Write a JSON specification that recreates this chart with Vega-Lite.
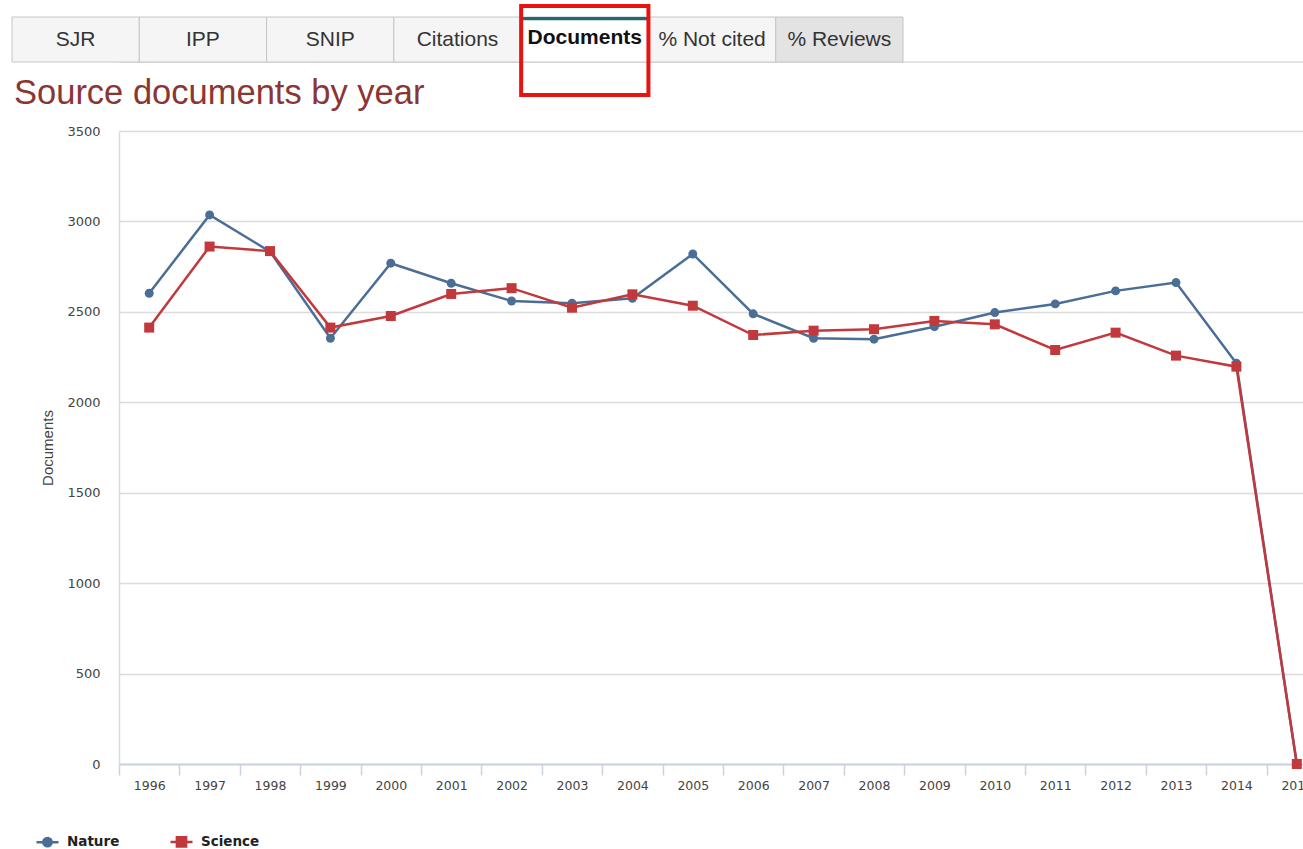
{
  "$schema": "https://vega.github.io/schema/vega-lite/v6.json",
  "autosize": {"type": "none"},
  "padding": {"left": 119, "top": 131, "right": 0, "bottom": 85},
  "width": 1184,
  "height": 633,
  "background": "white",
  "config": {"view": {"stroke": null}},
  "title": {
    "text": "Source documents by year",
    "anchor": "start",
    "frame": "group",
    "orient": "top",
    "offset": -134,
    "dx": -105,
    "baseline": "alphabetic",
    "font": "Liberation Sans",
    "fontSize": 34.5,
    "fontWeight": "normal",
    "color": "#8b3535"
  },
  "datasets": {
    "tabs": [
      {"tab": "SJR"}, {"tab": "IPP"}, {"tab": "SNIP"}, {"tab": "Citations"},
      {"tab": "Documents"}, {"tab": "% Not cited"}, {"tab": "% Reviews"}
    ],
    "docs": [
      {"year": 1996, "journal": "Nature", "documents": 2603},
      {"year": 1997, "journal": "Nature", "documents": 3036},
      {"year": 1998, "journal": "Nature", "documents": 2833},
      {"year": 1999, "journal": "Nature", "documents": 2354},
      {"year": 2000, "journal": "Nature", "documents": 2769},
      {"year": 2001, "journal": "Nature", "documents": 2658},
      {"year": 2002, "journal": "Nature", "documents": 2560},
      {"year": 2003, "journal": "Nature", "documents": 2548},
      {"year": 2004, "journal": "Nature", "documents": 2575},
      {"year": 2005, "journal": "Nature", "documents": 2820},
      {"year": 2006, "journal": "Nature", "documents": 2489},
      {"year": 2007, "journal": "Nature", "documents": 2354},
      {"year": 2008, "journal": "Nature", "documents": 2349},
      {"year": 2009, "journal": "Nature", "documents": 2418},
      {"year": 2010, "journal": "Nature", "documents": 2496},
      {"year": 2011, "journal": "Nature", "documents": 2544},
      {"year": 2012, "journal": "Nature", "documents": 2616},
      {"year": 2013, "journal": "Nature", "documents": 2662},
      {"year": 2014, "journal": "Nature", "documents": 2216},
      {"year": 2015, "journal": "Nature", "documents": 0},
      {"year": 1996, "journal": "Science", "documents": 2413},
      {"year": 1997, "journal": "Science", "documents": 2861},
      {"year": 1998, "journal": "Science", "documents": 2836},
      {"year": 1999, "journal": "Science", "documents": 2413},
      {"year": 2000, "journal": "Science", "documents": 2477},
      {"year": 2001, "journal": "Science", "documents": 2599},
      {"year": 2002, "journal": "Science", "documents": 2631},
      {"year": 2003, "journal": "Science", "documents": 2523},
      {"year": 2004, "journal": "Science", "documents": 2597},
      {"year": 2005, "journal": "Science", "documents": 2534},
      {"year": 2006, "journal": "Science", "documents": 2372},
      {"year": 2007, "journal": "Science", "documents": 2396},
      {"year": 2008, "journal": "Science", "documents": 2404},
      {"year": 2009, "journal": "Science", "documents": 2450},
      {"year": 2010, "journal": "Science", "documents": 2431},
      {"year": 2011, "journal": "Science", "documents": 2289},
      {"year": 2012, "journal": "Science", "documents": 2385},
      {"year": 2013, "journal": "Science", "documents": 2258},
      {"year": 2014, "journal": "Science", "documents": 2197},
      {"year": 2015, "journal": "Science", "documents": 0}
    ]
  },
  "resolve": {"scale": {"x": "independent", "y": "independent"}},
  "layer": [
    {
      "data": {"name": "tabs"},
      "encoding": {
        "x": {"field": "tab", "type": "nominal", "sort": null, "axis": null,
              "scale": {"type": "band", "range": [-107, 784], "paddingInner": 0, "paddingOuter": 0}}
      },
      "layer": [
        {
          "transform": [{"filter": "datum.tab === 'SJR'"}],
          "mark": {"type": "rule", "color": "#c8c8c8", "strokeWidth": 1},
          "encoding": {
            "x": null,
            "y": {"datum": 0, "type": "quantitative", "axis": null,
                  "scale": {"domain": [0, 1], "range": [-69, -114], "nice": false, "zero": false}}
          }
        },
        {
          "mark": {"type": "rect", "stroke": "#c6c6c6", "strokeWidth": 1},
          "encoding": {
            "y": {"datum": 1, "type": "quantitative"},
            "y2": {"datum": 0},
            "fill": {
              "condition": [
                {"test": "datum.tab === 'Documents'", "value": "#ffffff"},
                {"test": "datum.tab === '% Reviews'", "value": "#e3e3e3"}
              ],
              "value": "#f5f5f5"
            }
          }
        },
        {
          "transform": [{"filter": "datum.tab === 'Documents'"}],
          "mark": {"type": "rect", "fill": "#1d6b72"},
          "encoding": {
            "y": {"datum": 1, "type": "quantitative"},
            "y2": {"datum": 0.93}
          }
        },
        {
          "transform": [{"filter": "datum.tab !== 'Documents'"}],
          "mark": {"type": "text", "font": "Liberation Sans", "fontSize": 21, "color": "#333333", "baseline": "middle"},
          "encoding": {
            "y": {"datum": 0.49, "type": "quantitative"},
            "text": {"field": "tab"}
          }
        },
        {
          "transform": [{"filter": "datum.tab === 'Documents'"}],
          "mark": {"type": "text", "font": "Liberation Sans", "fontSize": 21, "fontWeight": "bold", "color": "#111111", "baseline": "middle"},
          "encoding": {
            "y": {"datum": 0.53, "type": "quantitative"},
            "text": {"field": "tab"}
          }
        },
        {
          "transform": [{"filter": "datum.tab === 'Documents'"}],
          "mark": {"type": "rect", "fill": "transparent", "stroke": "#e81212", "strokeWidth": 4},
          "encoding": {
            "y": {"datum": 1.244, "type": "quantitative"},
            "y2": {"datum": -0.733}
          }
        }
      ]
    },
    {
      "data": {"name": "docs"},
      "encoding": {
        "x": {
          "field": "year", "type": "ordinal",
          "scale": {"type": "band", "range": [0, 1208], "paddingInner": 0, "paddingOuter": 0},
          "axis": {
            "orient": "bottom",
            "title": null, "labelAngle": 0, "tickBand": "extent", "grid": false,
            "domainColor": "#c9d4e2", "domainWidth": 2,
            "tickColor": "#c9d4e2", "tickWidth": 1.5, "tickSize": 11,
            "labelFont": "DejaVu Sans", "labelFontSize": 12.5, "labelColor": "#444444",
            "labelPadding": 4, "labelOverlap": false, "labelBound": false
          }
        },
        "y": {
          "field": "documents", "type": "quantitative",
          "scale": {"domain": [0, 3500], "nice": false},
          "axis": {
            "orient": "left",
            "values": [0, 500, 1000, 1500, 2000, 2500, 3000, 3500],
            "format": "d",
            "title": "Documents",
            "titleFont": "Liberation Sans", "titleFontSize": 15, "titleFontWeight": "normal",
            "titleColor": "#444444", "titlePadding": 11,
            "grid": true, "gridColor": "#dcdcdc", "gridWidth": 1.5,
            "domain": true, "domainColor": "#d4dce8", "domainWidth": 1.5,
            "ticks": false, "tickSize": 0, "labelPadding": 19,
            "labelFont": "DejaVu Sans", "labelFontSize": 13, "labelColor": "#444444"
          }
        },
        "color": {
          "field": "journal", "type": "nominal",
          "scale": {"domain": ["Nature", "Science"], "range": ["#4b6e97", "#c1393d"]},
          "legend": {
            "orient": "none", "legendX": -84, "legendY": 698,
            "direction": "horizontal", "title": null, "padding": 0,
            "symbolSize": 484, "symbolStrokeWidth": 2.5,
            "labelFont": "DejaVu Sans", "labelFontSize": 13.5, "labelFontWeight": "bold",
            "labelColor": "#222222", "labelOffset": 7, "columnPadding": 45,
            "encode": {
              "symbols": {
                "update": {
                  "shape": {"signal": "datum.value === 'Science' ? 'M-1,0H1M-0.42,-0.42H0.42V0.42H-0.42Z' : 'M-1,0H1M-0.38,0A0.38,0.38,0,1,1,0.38,0A0.38,0.38,0,1,1,-0.38,0Z'"},
                  "fill": {"scale": "color", "field": "value"},
                  "stroke": {"scale": "color", "field": "value"},
                  "strokeWidth": {"value": 2.5},
                  "opacity": {"value": 1}
                }
              }
            }
          }
        }
      },
      "layer": [
        {"mark": {"type": "line", "strokeWidth": 2.5}},
        {
          "transform": [{"filter": "datum.journal === 'Nature'"}],
          "mark": {"type": "point", "filled": true, "opacity": 1, "shape": "circle", "size": 80}
        },
        {
          "transform": [{"filter": "datum.journal === 'Science'"}],
          "mark": {"type": "point", "filled": true, "opacity": 1, "shape": "square", "size": 100}
        }
      ]
    }
  ]
}
